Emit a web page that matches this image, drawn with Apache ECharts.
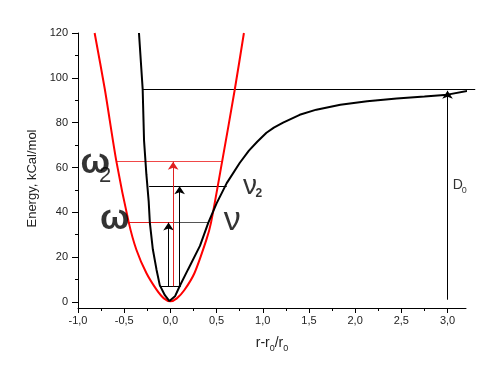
<!DOCTYPE html>
<html><head><meta charset="utf-8">
<script src="https://cdn.jsdelivr.net/npm/echarts@6/dist/echarts.min.js"></script>
<style>html,body{margin:0;padding:0;background:#fff}#c{width:499px;height:379px}</style>
</head><body><div id="c"></div>
<script>
// ---- data ----
const xTicks = [-1, -0.5, 0, 0.5, 1, 1.5, 2, 2.5, 3];
const xMinorTicks = [-0.75, -0.25, 0.25, 0.75, 1.25, 1.75, 2.25, 2.75];
const yTicks = [0, 20, 40, 60, 80, 100, 120];
const yMinorTicks = [10, 30, 50, 70, 90, 110];

// harmonic (red) potential
const redX = [-0.82, -0.71, -0.584, -0.45, -0.368, -0.26, -0.15, -0.07, 0, 0.07, 0.15, 0.26, 0.39, 0.44, 0.56, 0.698, 0.796];
const redY = [120, 95, 62.6, 35.4, 23.3, 12.9, 5.5, 1.6, 0.3, 1.6, 5.2, 12.8, 27.8, 35.4, 62.6, 95, 120];

// Morse-like (black) potential
const blackX = [-0.34, -0.30, -0.285, -0.26, -0.235, -0.222, -0.19, -0.15, -0.115, -0.06, -0.01, 0.05, 0.10, 0.19, 0.32, 0.41, 0.5, 0.61, 0.75, 0.85, 0.94, 1.04, 1.12, 1.22, 1.40, 1.58, 1.84, 2.13, 2.45, 2.75, 3.0, 3.22];
const blackY = [120, 95, 72, 57, 45, 35.3, 23.5, 14.4, 7.5, 3, 0.4, 2.5, 7, 14.4, 25, 35.3, 44, 53, 62, 67.5, 71.5, 75.5, 77.8, 80, 83.5, 85.8, 88, 89.5, 90.8, 91.7, 92.5, 94.2];

// energy levels: [x1, x2, y]
const levelX1 = [-0.115, -0.46, 0.03, -0.584, -0.23, -0.296];
const levelX2 = [0.113, 0.03, 0.41, 0.56, 0.61, 3.3];
const levelY = [7, 35.4, 35.4, 62.6, 51.6, 95];
const levelKind = ['black', 'red', 'grey', 'pink', 'black', 'black'];

// transition arrows: x, from y, to y
const arrowX = [-0.02, 0.03, 0.10, 3.0];
const arrowY1 = [7, 7, 7, 1];
const arrowY2 = [35.4, 62.6, 51.6, 94.2];
const arrowKind = ['black', 'red', 'black', 'black'];

// annotation texts and their anchor points (data coordinates)
const annoTexts = ['ω', '2', 'ω', 'ν', 'ν', '2', 'D', '0'];
const annoX = [-0.814, -0.706, -0.603, 0.671, 0.861, 0.958, 3.11, 3.18];
const annoY = [61.9, 56.3, 36.7, 36.5, 51.4, 48.3, 52.3, 49.6];
const annoKind = ['big', 'sub', 'big', 'nu', 'nu2', 'sub2', 'D', 'Dsub'];

// ---- styles ----
const FONT = "'Liberation Sans', Arial, sans-serif";
const COLORS = { black: '#000', red: '#e02020', grey: '#555', pink: '#f04848' };
const ANNO = {
  big:  { fontSize: 35, fontWeight: 'bold' },
  sub:  { fontSize: 22, fontWeight: 'normal' },
  nu:   { fontSize: 34, fontWeight: 'normal' },
  nu2:  { fontSize: 28, fontWeight: 'normal' },
  sub2: { fontSize: 12, fontWeight: 'bold' },
  D:    { fontSize: 14, fontWeight: 'normal' },
  Dsub: { fontSize: 9, fontWeight: 'normal' }
};
const fmt = v => Number(v).toFixed(1).replace('.', ',');

const chart = echarts.init(document.getElementById('c'));

const levelData = levelY.map((y, i) => ({
  coords: [[levelX1[i], y], [levelX2[i], y]],
  lineStyle: { color: COLORS[levelKind[i]], width: 1, opacity: 1 }
}));
const arrowData = arrowX.map((x, i) => ({
  coords: [[x, arrowY1[i]], [x, arrowY2[i]]],
  lineStyle: { color: COLORS[arrowKind[i]], width: 1, opacity: 1 }
}));
const annoData = annoTexts.map((t, i) => ({
  value: [annoX[i], annoY[i]],
  label: Object.assign({ formatter: t }, ANNO[annoKind[i]])
}));

const axisCommon = {
  type: 'value',
  splitLine: { show: false },
  axisLine: { show: true, onZero: false, lineStyle: { color: '#000', width: 1 } }
};

chart.setOption({
  animation: false,
  backgroundColor: '#fff',
  grid: { left: 78, right: 33, top: 33, bottom: 71 },
  xAxis: [
    Object.assign({}, axisCommon, {
      min: -1, max: 3.2, position: 'bottom',
      axisTick: { show: true, length: 5, customValues: xTicks, lineStyle: { color: '#000' } },
      axisLabel: { customValues: xTicks, formatter: fmt, fontSize: 11, color: '#222', margin: 7, fontFamily: FONT },
      name: '{m|r-r}{s|0}{m|/r}{s|0}',
      nameLocation: 'middle', nameGap: 25,
      nameTextStyle: {
        color: '#222', fontFamily: FONT, fontSize: 14,
        rich: {
          m: { fontSize: 14, lineHeight: 20, fontFamily: FONT, color: '#222' },
          s: { fontSize: 9, lineHeight: 12, verticalAlign: 'bottom', fontFamily: FONT, color: '#222' }
        }
      }
    }),
    Object.assign({}, axisCommon, {
      min: -1, max: 3.2, position: 'bottom',
      axisLine: { show: false, onZero: false },
      axisTick: { show: true, length: 3, customValues: xMinorTicks, lineStyle: { color: '#000' } },
      axisLabel: { show: false }
    })
  ],
  yAxis: [
    Object.assign({}, axisCommon, {
      min: -2.7, max: 120, position: 'left',
      axisTick: { show: true, length: 6, customValues: yTicks, lineStyle: { color: '#000' } },
      axisLabel: { customValues: yTicks, fontSize: 11, color: '#222', margin: 10, fontFamily: FONT },
      name: 'Energy, kCal/mol',
      nameLocation: 'middle', nameGap: 36,
      nameTextStyle: { fontSize: 13, color: '#222', fontFamily: FONT, padding: [0, 16, 0, 0] }
    }),
    Object.assign({}, axisCommon, {
      min: -2.7, max: 120, position: 'left',
      axisLine: { show: false, onZero: false },
      axisTick: { show: true, length: 3, customValues: yMinorTicks, lineStyle: { color: '#000' } },
      axisLabel: { show: false }
    })
  ],
  series: [
    {
      type: 'line', name: 'harmonic', data: redX.map((x, i) => [x, redY[i]]),
      smooth: 0.25, showSymbol: false, symbol: 'none',
      lineStyle: { color: '#f00', width: 2 }, z: 3
    },
    {
      type: 'line', name: 'morse', data: blackX.map((x, i) => [x, blackY[i]]),
      smooth: false, showSymbol: false, symbol: 'none',
      lineStyle: { color: '#000', width: 2 }, z: 4
    },
    {
      type: 'lines', coordinateSystem: 'cartesian2d', name: 'levels',
      data: levelData, symbol: 'none', clip: false, z: 2,
      lineStyle: { opacity: 1, width: 1 }
    },
    {
      type: 'lines', coordinateSystem: 'cartesian2d', name: 'arrows',
      data: arrowData, symbol: ['none', 'arrow'], symbolSize: [5, 8], clip: false, z: 5,
      lineStyle: { opacity: 1, width: 1 }
    },
    {
      type: 'scatter', name: 'labels', data: annoData, symbolSize: 0, silent: true, clip: false,
      label: { show: true, position: 'inside', align: 'center', verticalAlign: 'middle', color: '#000', fontFamily: FONT },
      z: 6
    }
  ]
});
</script>
</body></html>
